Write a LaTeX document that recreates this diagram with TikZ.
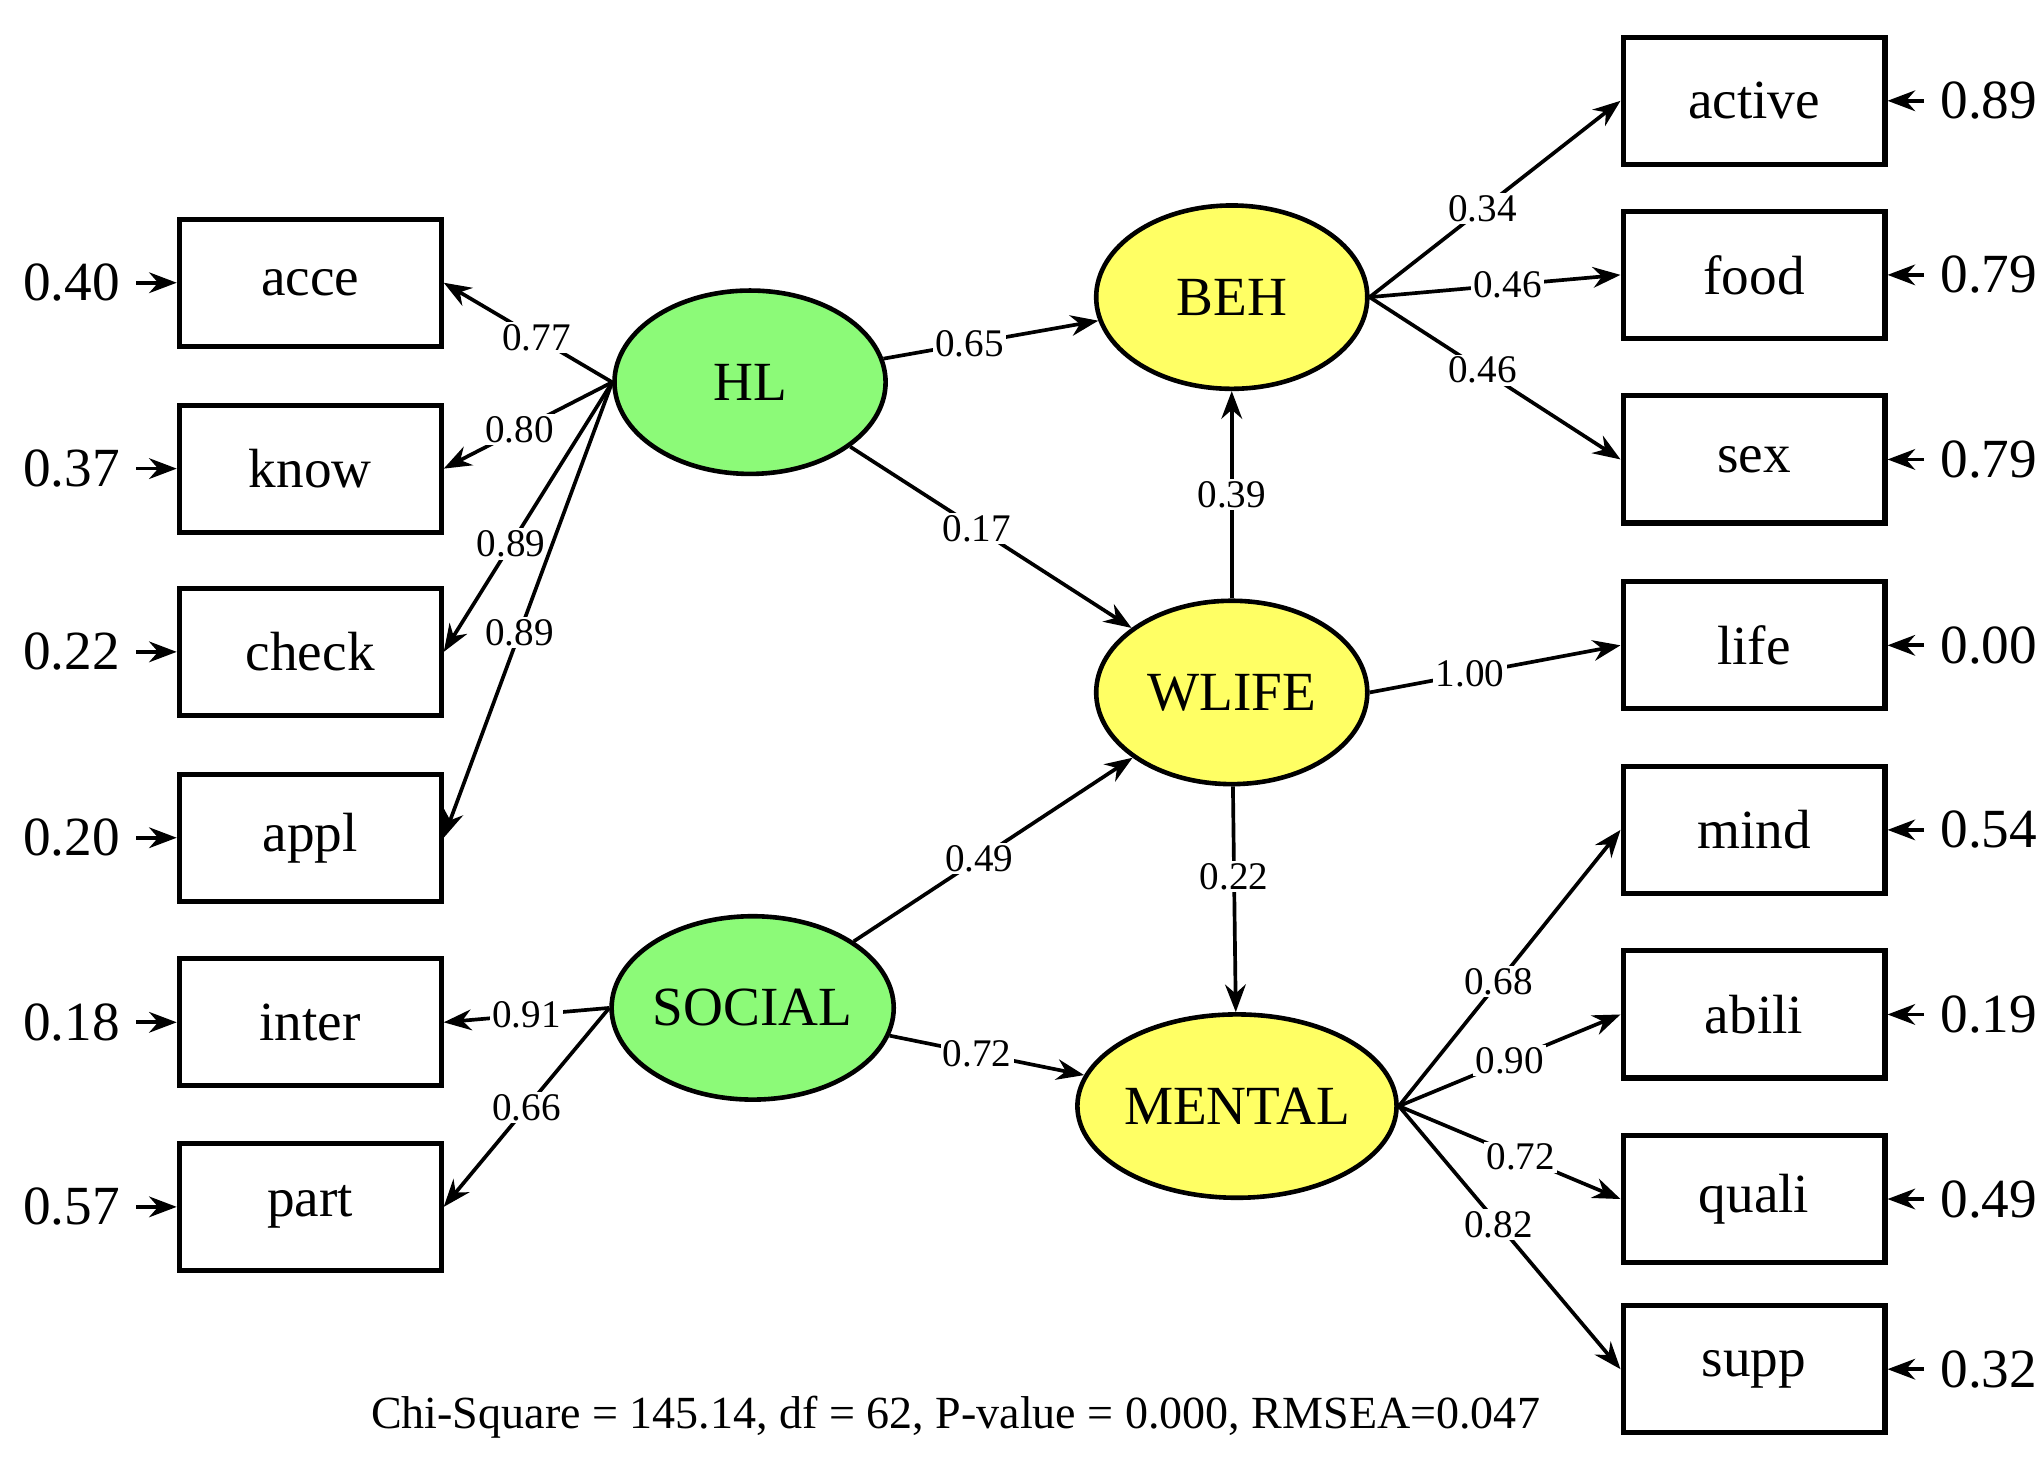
\documentclass[tikz,border=0pt]{standalone}
\usepackage{fontspec}
\setmainfont{Liberation Serif}
\usetikzlibrary{shapes.geometric,arrows.meta}
\definecolor{lgreen}{RGB}{140,250,120}
\definecolor{lyellow}{RGB}{255,255,100}
\begin{document}
\begin{tikzpicture}[x=0.01cm,y=-0.01cm,
 box/.style={draw,line width=1.1pt,minimum width=2cm,minimum height=0.97cm,font=\fontsize{12}{14}\selectfont},
 lat/.style={draw,line width=1pt,ellipse,inner sep=0pt,minimum width=2.07cm,minimum height=1.4cm,font=\fontsize{12}{14}\selectfont},
 arr/.style={-{Stealth[length=6pt,width=4.5pt]},line width=0.8pt},
 lab/.style={fill=white,inner sep=0.5pt,font=\fontsize{8.5}{10}\selectfont},
 err/.style={font=\fontsize{12}{14}\selectfont}]
\useasboundingbox (0,0) rectangle (1560,1127);
% left boxes
\foreach \n/\y/\e in {acce/216/0.40,know/358/0.37,check/498/0.22,appl/640/0.20,inter/781/0.18,part/922/0.57}{
 \node[box] (\n) at (237,\y) {\n};
 \node[err,anchor=east] (e\n) at (104,\y) {\e};
 \draw[arr] (e\n.east) -- (\n.west);
}
% right boxes
\foreach \n/\y/\e in {active/77/0.89,food/210/0.79,sex/351/0.79,life/493/0.00,mind/634/0.54,abili/775/0.19,quali/916/0.49,supp/1046/0.32}{
 \node[box] (\n) at (1340,\y) {\n};
 \node[err,anchor=west] (e\n) at (1470,\y) {\e};
 \draw[arr] (e\n.west) -- (\n.east);
}
\node[lat,fill=lgreen] (HL) at (573,292) {HL};
\node[lat,fill=lgreen] (SOCIAL) at (575,770) {SOCIAL};
\node[lat,fill=lyellow] (BEH) at (941,227) {BEH};
\node[lat,fill=lyellow] (WLIFE) at (941,529) {WLIFE};
\node[lat,fill=lyellow] (MENTAL) at (945,845) {MENTAL};
% loadings
\draw[arr] (HL.west) -- node[lab,pos=0.45] {0.77} (acce.east);
\draw[arr] (HL.west) -- node[lab,pos=0.55] {0.80} (know.east);
\draw[arr] (HL.west) -- node[lab,pos=0.6] {0.89} (check.east);
\draw[arr] (HL.west) -- node[lab,pos=0.55] {0.89} (appl.east);
\draw[arr] (SOCIAL.west) -- node[lab,pos=0.5] {0.91} (inter.east);
\draw[arr] (SOCIAL.west) -- node[lab,pos=0.5] {0.66} (part.east);
% structural
\draw[arr] (HL) -- node[lab,pos=0.4] {0.65} (BEH);
\draw[arr] (HL) -- node[lab,pos=0.45] {0.17} (WLIFE);
\draw[arr] (SOCIAL) -- node[lab,pos=0.45] {0.49} (WLIFE);
\draw[arr] (SOCIAL) -- node[lab,pos=0.45] {0.72} (MENTAL);
\draw[arr] (WLIFE) -- node[lab] {0.39} (BEH);
\draw[arr] (WLIFE) -- node[lab,pos=0.4] {0.22} (MENTAL);
\draw[arr] (BEH.east) -- node[lab,pos=0.45] {0.34} (active.west);
\draw[arr] (BEH.east) -- node[lab,pos=0.55] {0.46} (food.west);
\draw[arr] (BEH.east) -- node[lab,pos=0.45] {0.46} (sex.west);
\draw[arr] (WLIFE.east) -- node[lab,pos=0.4] {1.00} (life.west);
\draw[arr] (MENTAL.east) -- node[lab,pos=0.45] {0.68} (mind.west);
\draw[arr] (MENTAL.east) -- node[lab,pos=0.5] {0.90} (abili.west);
\draw[arr] (MENTAL.east) -- node[lab,pos=0.55] {0.72} (quali.west);
\draw[arr] (MENTAL.east) -- node[lab,pos=0.45] {0.82} (supp.west);
\node[font=\fontsize{10}{12}\selectfont] (chi) at (730,1083) {Chi-Square = 145.14, df = 62, P-value = 0.000, RMSEA=0.047};
\end{tikzpicture}
\end{document}
